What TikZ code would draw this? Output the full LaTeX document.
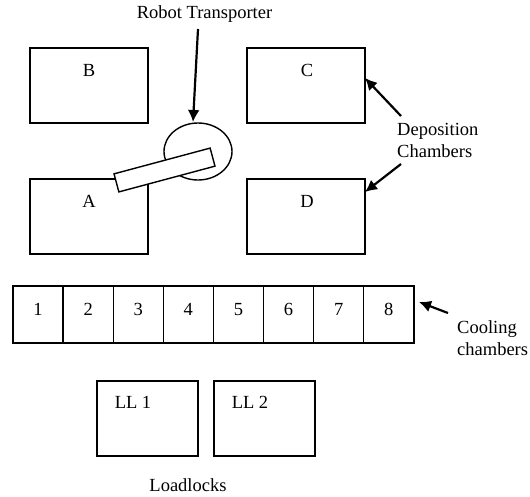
\documentclass[tikz,border=0pt]{standalone}
\usepackage{fontspec}
\setmainfont{Liberation Serif}
\usetikzlibrary{shapes.geometric,arrows.meta}
\tikzset{
  chamber/.style={draw, line width=1.4pt, minimum width=118pt, minimum height=75pt, inner sep=0pt},
  cell/.style={draw, line width=1.4pt, minimum width=50.1pt, minimum height=57pt, inner sep=0pt},
  lock/.style={draw, line width=1.4pt, minimum width=101pt, minimum height=75pt, inner sep=0pt},
  txt/.style={font=\fontsize{18.5}{22}\selectfont, inner sep=0pt},
  pointer/.style={line width=2.2pt, -{Latex[length=12pt,width=12pt]}}
}
\begin{document}
\begin{tikzpicture}[x=1pt,y=-1pt]
\useasboundingbox (0,0) rectangle (530,496);

% deposition chambers
\node[chamber] (B) at (89,85.5) {};
\node[chamber] (C) at (306,85.5) {};
\node[chamber] (A) at (89,216.5) {};
\node[chamber] (D) at (306,216.5) {};
\node[txt, anchor=base] (lB) at (89,76) {B};
\node[txt, anchor=base] (lC) at (307,76) {C};
\node[txt, anchor=base] (lA) at (89,207) {A};
\node[txt, anchor=base] (lD) at (307,207) {D};

% robot transporter: hub and arm
\node[draw, ellipse, line width=1.4pt, minimum width=68pt, minimum height=57pt, inner sep=0pt] (hub) at (198,151.5) {};
\node[draw, fill=white, line width=1.4pt, rotate=15, minimum width=99.5pt, minimum height=18.7pt, inner sep=0pt] (arm) at (164.5,170) {};

% cooling chambers
\foreach \i in {1,...,8} {
  \node[cell] (c\i) at ({13+50.1*(\i-0.5)},314.5) {};
  \node[txt, anchor=base] (n\i) at ({13+50.1*(\i-0.5)},315) {\i};
}

% loadlocks
\node[lock] (L1) at (147.5,418.5) {};
\node[lock] (L2) at (264.5,418.5) {};
\node[txt, anchor=base] (lL1) at (133,408) {LL 1};
\node[txt, anchor=base] (lL2) at (250,408) {LL 2};

% captions
\node[txt, anchor=base] (tRobot) at (204.5,18) {Robot Transporter};
\node[txt, anchor=base west] (tDep1) at (397,135) {Deposition};
\node[txt, anchor=base west] (tDep2) at (397,157) {Chambers};
\node[txt, anchor=base west] (tCool1) at (457,333) {Cooling};
\node[txt, anchor=base west] (tCool2) at (457,355) {chambers};
\node[txt, anchor=base] (tLoad) at (188,491) {Loadlocks};

% pointers
\coordinate (rTail) at (198,29);
\coordinate (rTip) at (193,122);
\coordinate (cTail) at (401,116);
\coordinate (cTip) at (365,78);
\coordinate (dTail) at (401,164);
\coordinate (dTip) at (365,192);
\coordinate (kTail) at (448,313);
\coordinate (kTip) at (419,302);
\draw[pointer] (rTail) -- (rTip);
\draw[pointer] (cTail) -- (cTip);
\draw[pointer] (dTail) -- (dTip);
\draw[pointer] (kTail) -- (kTip);
\end{tikzpicture}
\end{document}
